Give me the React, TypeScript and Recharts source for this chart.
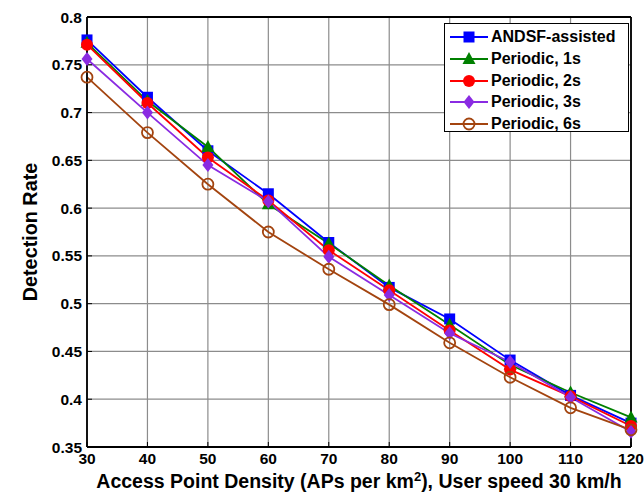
import React from "react";
import { LineChart, Line, XAxis, YAxis, CartesianGrid, ReferenceLine, Label } from "recharts";

const densities = [30, 40, 50, 60, 70, 80, 90, 100, 110, 120];
const andsfAssisted = [0.776, 0.716, 0.660, 0.615, 0.564, 0.517, 0.484, 0.441, 0.404, 0.375];
const periodic1s = [0.773, 0.712, 0.664, 0.604, 0.563, 0.519, 0.478, 0.436, 0.407, 0.381];
const periodic2s = [0.771, 0.710, 0.653, 0.608, 0.556, 0.514, 0.472, 0.431, 0.403, 0.372];
const periodic3s = [0.756, 0.700, 0.645, 0.607, 0.549, 0.509, 0.469, 0.439, 0.402, 0.366];
const periodic6s = [0.737, 0.679, 0.625, 0.575, 0.536, 0.499, 0.459, 0.423, 0.391, 0.368];

const xTicks = [30, 40, 50, 60, 70, 80, 90, 100, 110, 120];
const yTicks = [0.35, 0.4, 0.45, 0.5, 0.55, 0.6, 0.65, 0.7, 0.75, 0.8];

const seriesNames = ["ANDSF-assisted", "Periodic, 1s", "Periodic, 2s", "Periodic, 3s", "Periodic, 6s"];
const seriesKeys = ["andsf", "p1", "p2", "p3", "p6"];
const seriesColors = ["#0000ff", "#008000", "#ff0000", "#8a2be2", "#a3440f"];
const seriesShapes = ["square", "triangle", "circle", "diamond", "hollow"];

const data = densities.map((d, i) => ({
  x: d,
  andsf: andsfAssisted[i],
  p1: periodic1s[i],
  p2: periodic2s[i],
  p3: periodic3s[i],
  p6: periodic6s[i],
}));

const FONT = '"Liberation Sans", Arial, Helvetica, sans-serif';

function Marker({ shape, color, cx, cy }: { shape: string; color: string; cx: number; cy: number }) {
  if (shape === "square") {
    return <rect x={cx - 5.5} y={cy - 5.5} width={11} height={11} fill={color} />;
  }
  if (shape === "triangle") {
    return <polygon points={`${cx},${cy - 7} ${cx - 6.5},${cy + 5} ${cx + 6.5},${cy + 5}`} fill={color} />;
  }
  if (shape === "circle") {
    return <circle cx={cx} cy={cy} r={6} fill={color} />;
  }
  if (shape === "diamond") {
    return <polygon points={`${cx},${cy - 7} ${cx + 5.5},${cy} ${cx},${cy + 7} ${cx - 5.5},${cy}`} fill={color} />;
  }
  return <circle cx={cx} cy={cy} r={5.5} fill="none" stroke={color} strokeWidth={1.8} />;
}

const makeDot = (shape: string, color: string) => (props: any) => {
  const { cx, cy, index } = props;
  if (cx == null || cy == null) return <g key={index} />;
  return <Marker key={index} shape={shape} color={color} cx={cx} cy={cy} />;
};

const fmt = (v: number) => String(+v.toFixed(2));

function LegendBox() {
  return (
    <div
      style={{
        position: "absolute",
        left: 444,
        top: 23,
        width: 185,
        height: 109,
        boxSizing: "border-box",
        border: "1.5px solid #000",
        background: "#fff",
        fontFamily: FONT,
        fontWeight: "bold",
        fontSize: 16,
      }}
    >
      {seriesNames.map((name, i) => (
        <div key={name} style={{ position: "absolute", left: 0, top: 2 + i * 21.8, height: 22, display: "flex", alignItems: "center" }}>
          <svg width={46} height={22} style={{ display: "block" }}>
            <line x1={5} x2={43} y1={11} y2={11} stroke={seriesColors[i]} strokeWidth={1.8} />
            <Marker shape={seriesShapes[i]} color={seriesColors[i]} cx={24} cy={11} />
          </svg>
          <span style={{ color: "#000", whiteSpace: "nowrap" }}>{name}</span>
        </div>
      ))}
    </div>
  );
}

const XLabel = (props: any) => {
  const vb = props.viewBox || {};
  const cx = vb.x + vb.width / 2;
  return (
    <text x={cx} y={488} textAnchor="middle" fontFamily={FONT} fontWeight="bold" fontSize={19.5} fill="#000">
      <tspan>Access Point Density (APs per km</tspan>
      <tspan dy={-7} fontSize={13}>2</tspan>
      <tspan dy={7}>), User speed 30 km/h</tspan>
    </text>
  );
};

const YLabel = (props: any) => {
  const vb = props.viewBox || {};
  const cy = vb.y + vb.height / 2;
  return (
    <text
      x={37}
      y={cy}
      transform={`rotate(-90, 37, ${cy})`}
      textAnchor="middle"
      fontFamily={FONT}
      fontWeight="bold"
      fontSize={19.8}
      fill="#000"
    >
      Detection Rate
    </text>
  );
};

const tickStyle = { fontFamily: FONT, fontWeight: "bold", fontSize: 15.5, fill: "#000" };
const axisLineStyle = { stroke: "#000", strokeWidth: 1.8 };
const tickLineStyle = { stroke: "#000", strokeWidth: 1 };

export default function App() {
  return (
    <div style={{ position: "absolute", left: 0, top: 0, width: 644, height: 496, background: "#fff" }}>
      <LineChart width={644} height={496} data={data} margin={{ top: 17, right: 13, left: 0, bottom: 0 }}>
        <CartesianGrid stroke="#8c8c8c" strokeWidth={1.2} horizontal vertical />
        <XAxis
          dataKey="x"
          type="number"
          domain={[30, 120]}
          ticks={xTicks}
          height={49}
          tickSize={-5}
          tickMargin={11}
          axisLine={axisLineStyle}
          tickLine={tickLineStyle}
          tick={tickStyle}
          interval={0}
        >
          <Label content={<XLabel />} />
        </XAxis>
        <XAxis
          xAxisId="top"
          orientation="top"
          dataKey="x"
          type="number"
          domain={[30, 120]}
          ticks={xTicks}
          height={0}
          tickSize={-5}
          axisLine={axisLineStyle}
          tickLine={tickLineStyle}
          tick={false}
          interval={0}
        />
        <YAxis
          type="number"
          domain={[0.35, 0.8]}
          ticks={yTicks}
          width={87}
          tickSize={-5}
          tickMargin={10}
          tickFormatter={fmt}
          axisLine={axisLineStyle}
          tickLine={tickLineStyle}
          tick={tickStyle}
          interval={0}
          allowDataOverflow
        >
          <Label content={<YLabel />} />
        </YAxis>
        <YAxis
          yAxisId="right"
          orientation="right"
          type="number"
          domain={[0.35, 0.8]}
          ticks={yTicks}
          width={0}
          tickSize={-5}
          axisLine={axisLineStyle}
          tickLine={tickLineStyle}
          tick={false}
          interval={0}
          allowDataOverflow
        />
        <ReferenceLine x={120} stroke="#000" strokeWidth={1.8} />
        <ReferenceLine y={0.8} stroke="#000" strokeWidth={1.8} />
        {seriesKeys.map((k, i) => (
          <Line
            key={k}
            dataKey={k}
            name={seriesNames[i]}
            stroke={seriesColors[i]}
            strokeWidth={1.8}
            dot={makeDot(seriesShapes[i], seriesColors[i])}
            activeDot={false}
            isAnimationActive={false}
          />
        ))}
      </LineChart>
      <LegendBox />
    </div>
  );
}
